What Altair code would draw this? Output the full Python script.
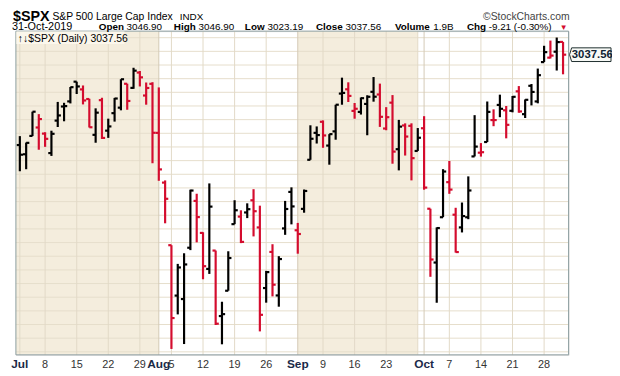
import altair as alt
import pandas as pd

# ---------------- data (S&P 500 daily OHLC, Jul-Oct 2019) ----------------
dates = (
    ["2019-07-%02d" % d for d in [1, 2, 3, 5, 8, 9, 10, 11, 12, 15, 16, 17, 18, 19, 22, 23, 24, 25, 26, 29, 30, 31]]
    + ["2019-08-%02d" % d for d in [1, 2, 5, 6, 7, 8, 9, 12, 13, 14, 15, 16, 19, 20, 21, 22, 23, 26, 27, 28, 29, 30]]
    + ["2019-09-%02d" % d for d in [3, 4, 5, 6, 9, 10, 11, 12, 13, 16, 17, 18, 19, 20, 23, 24, 25, 26, 27, 30]]
    + ["2019-10-%02d" % d for d in [1, 2, 3, 4, 7, 8, 9, 10, 11, 14, 15, 16, 17, 18, 21, 22, 23, 24, 25, 28, 29, 30, 31]]
)

opens = [
    2971.41, 2964.66, 2978.08, 2984.25, 2979.77, 2965.52, 2989.30, 2999.62, 3003.36, 3017.80, 3012.13,
    3005.10, 2978.87, 3004.26, 2981.93, 2994.74, 2998.77, 3016.26, 3013.25, 3024.47, 3007.66, 3016.22,
    2980.32, 2943.90, 2898.07, 2861.18, 2858.65, 2896.21, 2930.51, 2907.07, 2880.72, 2894.15, 2846.20,
    2864.74, 2913.48, 2919.01, 2922.04, 2930.94, 2911.07, 2866.70, 2893.14, 2861.28, 2910.37, 2937.09,
    2909.01, 2924.67, 2960.60, 2980.33, 2988.43, 2971.01, 2981.41, 3009.08, 3012.21, 2996.41, 2995.67,
    3001.50, 3010.36, 3008.42, 2983.50, 3002.43, 2968.35, 2985.73, 2985.47, 2967.07,
    2983.69, 2924.78, 2885.38, 2918.56, 2944.23, 2920.40, 2911.10, 2918.55, 2963.07, 2965.81, 2973.61,
    2989.68, 3000.77, 2996.84, 2996.48, 3010.73, 2994.01, 3014.78, 3003.32, 3032.12, 3035.39, 3039.74, 3046.90,
]
highs = [
    2977.93, 2973.21, 2995.84, 2994.03, 2980.76, 2981.90, 3002.98, 3002.33, 3013.92, 3017.80, 3015.02,
    3005.26, 2998.28, 3006.02, 2990.71, 3005.90, 3019.59, 3016.31, 3027.98, 3025.61, 3017.19, 3017.40,
    3013.59, 2945.50, 2898.07, 2884.40, 2892.17, 2938.72, 2935.75, 2907.58, 2943.31, 2894.15, 2856.67,
    2893.63, 2931.00, 2923.63, 2928.73, 2939.08, 2927.01, 2879.27, 2898.79, 2890.03, 2930.50, 2940.43,
    2914.39, 2938.84, 2985.86, 2985.03, 2989.43, 2979.39, 3000.93, 3020.74, 3017.33, 3002.19, 3006.21,
    3007.83, 3021.19, 3016.37, 2999.15, 3007.98, 2989.82, 2987.28, 2987.31, 2983.85,
    2992.53, 2924.78, 2911.13, 2953.74, 2959.75, 2925.47, 2929.32, 2948.46, 2993.28, 2972.84, 3003.28,
    2997.54, 3008.29, 3000.00, 3007.33, 3014.57, 3004.78, 3016.07, 3027.39, 3044.08, 3047.87, 3050.10, 3046.90,
]
lows = [
    2952.22, 2953.70, 2977.96, 2967.97, 2970.09, 2963.44, 2984.62, 2988.80, 3001.87, 3008.77, 3001.15,
    2984.25, 2973.09, 2975.86, 2976.65, 2988.56, 2996.82, 2997.24, 3012.59, 3014.30, 3000.94, 2958.08,
    2945.23, 2914.11, 2822.12, 2847.42, 2825.71, 2894.47, 2900.15, 2873.14, 2877.05, 2839.64, 2825.51,
    2864.74, 2913.48, 2899.60, 2917.91, 2904.51, 2834.97, 2856.00, 2860.59, 2853.05, 2905.67, 2913.32,
    2891.85, 2921.86, 2960.60, 2972.51, 2969.39, 2957.01, 2975.31, 3000.92, 3002.90, 2990.67, 2993.73,
    2978.57, 3003.16, 2984.68, 2982.23, 2957.73, 2952.86, 2963.71, 2945.53, 2967.07,
    2938.70, 2874.93, 2855.94, 2918.56, 2935.68, 2892.66, 2907.41, 2917.12, 2963.07, 2962.94, 2973.61,
    2985.20, 2991.79, 2976.31, 2995.35, 2995.04, 2991.21, 3000.42, 3001.94, 3032.12, 3034.81, 3025.96, 3023.19,
]
closes = [
    2964.33, 2973.01, 2995.82, 2990.41, 2975.95, 2979.63, 2993.07, 2999.91, 3013.77, 3014.30, 3004.04,
    2984.42, 2995.11, 2976.61, 2985.03, 3005.47, 3019.56, 3003.67, 3025.86, 3020.97, 3013.18, 2980.38,
    2953.56, 2932.05, 2844.74, 2881.77, 2883.98, 2938.09, 2918.65, 2882.70, 2926.32, 2840.60, 2847.60,
    2888.68, 2923.65, 2900.51, 2924.43, 2922.95, 2847.11, 2878.38, 2869.16, 2887.94, 2924.58, 2926.46,
    2906.27, 2937.78, 2976.00, 2978.71, 2978.43, 2979.39, 3000.93, 3009.57, 3007.39, 2997.96, 3005.70,
    3006.73, 3006.79, 2992.07, 2991.78, 2966.60, 2984.87, 2977.62, 2961.79, 2976.74,
    2940.25, 2887.61, 2910.63, 2952.01, 2938.79, 2893.06, 2919.40, 2938.13, 2970.27, 2966.15, 2995.68,
    2989.69, 2997.95, 2986.20, 3006.72, 2995.99, 3004.52, 3010.29, 3022.55, 3039.42, 3036.89, 3046.77, 3037.56,
]
prev_close = 2941.76  # close of 28-Jun-2019

# axis labels (dates they sit under)
label_dates = ["2019-07-01", "2019-07-08", "2019-07-15", "2019-07-22", "2019-07-29",
               "2019-08-01", "2019-08-05", "2019-08-12", "2019-08-19", "2019-08-26",
               "2019-09-03", "2019-09-09", "2019-09-16", "2019-09-23",
               "2019-10-01", "2019-10-07", "2019-10-14", "2019-10-21", "2019-10-28"]
label_texts = ["Jul", "8", "15", "22", "29", "Aug", "5", "12", "19", "26",
               "Sep", "9", "16", "23", "Oct", "7", "14", "21", "28"]
month_labels = ["Jul", "Aug", "Sep", "Oct"]

# vertical grid lines (Mondays) and month separators
week_grid = ["2019-07-01", "2019-07-08", "2019-07-15", "2019-07-22", "2019-07-29", "2019-08-05",
             "2019-08-12", "2019-08-19", "2019-08-26", "2019-09-09", "2019-09-16", "2019-09-23",
             "2019-09-30", "2019-10-07", "2019-10-14", "2019-10-21", "2019-10-28"]
month_grid = ["2019-08-01", "2019-09-03", "2019-10-01"]
# shaded months (start, end)
shade_start = ["2019-09-03"]
shade_end = ["2019-09-30"]

y_levels = list(range(2820, 3051, 10))

# ---------------- frames ----------------
df = pd.DataFrame({"date": dates, "open": opens, "high": highs, "low": lows, "close": closes})
df["idx"] = range(len(df))
prevs = [prev_close] + closes[:-1]
df["dir"] = ["up" if c >= p else "down" for c, p in zip(closes, prevs)]
pos = {d: i for i, d in enumerate(dates)}

lab = pd.DataFrame({"idx": [pos[d] for d in label_dates], "t": label_texts})
lab["month"] = lab["t"].isin(month_labels)
wgrid = pd.DataFrame({"idx": [pos[d] for d in week_grid]})
mgrid = pd.DataFrame({"idx": [pos[d] for d in month_grid]})
shade = pd.DataFrame({"s": [pos[d] for d in shade_start], "e": [pos[d] for d in shade_end]})
july = pd.DataFrame({"e": [pos["2019-08-01"]]})
levels = pd.DataFrame({"v": y_levels})
last = df.iloc[[-1]]

W, H = 560, 328
XDOM = [-0.625, 86.875]
YDOM = [2817.8, 3054.8]
FONT = "Liberation Sans"
RED = "#D40C2E"
BG_LIGHT = "#FDF6E4"
BG_DARK = "#F4EDDD"
FRAME = "#8D9EA1"

xs = alt.Scale(domain=XDOM, nice=False, zero=False)
ys = alt.Scale(domain=YDOM, nice=False, zero=False)
colr = alt.Color("dir:N", scale=alt.Scale(domain=["up", "down"], range=["#000000", RED]), legend=None)

base = alt.Chart(df)

bg_july = alt.Chart(july).mark_rect(color=BG_DARK).encode(
    x=alt.X("e:Q", scale=xs, axis=None), x2=alt.value(0), y=alt.value(0), y2=alt.value(H)
)
bg_sep = alt.Chart(shade).mark_rect(color=BG_DARK).encode(
    x=alt.X("s:Q", scale=xs, axis=None), x2="e:Q", y=alt.value(0), y2=alt.value(H)
)
hgrid = alt.Chart(levels).mark_rule(color="#E6DDCB", strokeWidth=1).encode(
    y=alt.Y("v:Q", scale=ys, axis=None), x=alt.value(0), x2=alt.value(W)
)
vgrid_w = alt.Chart(wgrid).mark_rule(strokeWidth=1, color="#E2D9C7").encode(
    x=alt.X("idx:Q", scale=xs, axis=None), y=alt.value(0), y2=alt.value(H)
)
vgrid_m = alt.Chart(mgrid).mark_rule(strokeWidth=1, color="#D3C9B6").encode(
    x=alt.X("idx:Q", scale=xs, axis=None), y=alt.value(0), y2=alt.value(H)
)

SW = 2.2
hl = base.mark_rule(strokeWidth=SW).encode(
    x=alt.X("idx:Q", scale=xs,
            axis=alt.Axis(values=list(range(len(dates))), labels=False, ticks=True, tickSize=2,
                          tickColor=FRAME, domain=False, grid=False, title=None)),
    y=alt.Y("low:Q", scale=ys,
            axis=alt.Axis(orient="right", values=y_levels, grid=False, domain=False, ticks=True,
                          tickSize=3, tickColor="#555555", labelFont=FONT, labelFontSize=10.5,
                          labelColor="#222222", labelPadding=1, title=None)),
    y2="high:Q",
    color=colr,
)
op = base.mark_rule(strokeWidth=SW, xOffset=-3.2, x2Offset=0).encode(
    x=alt.X("idx:Q", scale=xs), x2="idx:Q", y=alt.Y("open:Q", scale=ys), color=colr
)
cl = base.mark_rule(strokeWidth=SW, xOffset=0, x2Offset=3.2).encode(
    x=alt.X("idx:Q", scale=xs), x2="idx:Q", y=alt.Y("close:Q", scale=ys), color=colr
)

frame = alt.Chart(july).mark_rect(fill=None, stroke=FRAME, strokeWidth=1).encode(
    x=alt.value(0), x2=alt.value(W), y=alt.value(0), y2=alt.value(H)
)

day_lab = alt.Chart(lab[~lab["month"]]).mark_text(
    font=FONT, fontSize=11, color="#333333", baseline="alphabetic"
).encode(x=alt.X("idx:Q", scale=xs), y=alt.value(H + 13), text="t:N")
mon_lab = alt.Chart(lab[lab["month"]]).mark_text(
    font=FONT, fontSize=12, fontWeight="bold", color="#1B2A48", baseline="alphabetic"
).encode(x=alt.X("idx:Q", scale=xs), y=alt.value(H + 13), text="t:N")


def txt(t, px, py, size=10, weight="normal", color="#000000", align="left", font=FONT):
    return alt.Chart(pd.DataFrame({"t": [t]})).mark_text(
        font=font, fontSize=size, fontWeight=weight, color=color, align=align, baseline="alphabetic"
    ).encode(x=alt.value(px - 16), y=alt.value(py - 29), text="t:N")


L1 = 18
L2 = 28
header = [
    txt("$SPX", 13, 18.5, size=14.5, weight="bold"),
    txt("S&P 500 Large Cap Index", 53, L1, size=10.5),
    txt("INDX", 182, L1, size=10),
    txt("\u00a9StockCharts.com", 577, L1, size=10.5, color="#444444", align="right"),
    txt("31-Oct-2019", 12, L2, size=11),
    txt("Open", 100, L2, weight="bold"), txt("3046.90", 128, L2),
    txt("High", 176, L2, weight="bold"), txt("3046.90", 201, L2),
    txt("Low", 248, L2, weight="bold"), txt("3023.19", 271, L2),
    txt("Close", 320, L2, weight="bold"), txt("3037.56", 350, L2),
    txt("Volume", 400, L2, weight="bold"), txt("1.9B", 439, L2),
    txt("Chg", 473, L2, weight="bold"), txt("-9.21 (-0.30%)", 495, L2),
    txt("\u25bc", 567, L2, size=8, color=RED),
]

leg_box = alt.Chart(july).mark_rect(color="#FBF7EC").encode(
    x=alt.value(0.5), x2=alt.value(110), y=alt.value(0.5), y2=alt.value(13)
)
leg_txt = txt("\u2191\u2193$SPX (Daily) 3037.56", 18, 40, size=10.5)

price_box = alt.Chart(last).mark_point(
    shape="M -1 0 L -0.9 -0.33 L 1 -0.33 L 1 0.33 L -0.9 0.33 Z",
    size=1764, filled=True, fill="#F7F9F6", stroke="#1E2E2E", strokeWidth=1, opacity=1,
).encode(x=alt.value(W + 22), y=alt.Y("close:Q", scale=ys))
price_txt = alt.Chart(last).mark_text(
    font=FONT, fontSize=11.5, fontWeight="bold", color="#0E2233", align="center", baseline="middle", dx=2
).encode(x=alt.value(W + 22), y=alt.Y("close:Q", scale=ys), text=alt.Text("close:Q", format=".2f"))

chart = alt.layer(
    bg_july, bg_sep, hgrid, vgrid_w, vgrid_m, hl, op, cl, frame, day_lab, mon_lab,
    leg_box, leg_txt, *header, price_box, price_txt,
).properties(
    width=W, height=H,
    autosize=alt.AutoSizeParams(type="none"),
    padding={"left": 8, "top": 21, "right": 44, "bottom": 19},
).configure_view(
    fill=BG_LIGHT, stroke=None
).configure(background="#FFFFFF")

chart.save("out.html", embed_options={"renderer": "svg", "actions": False})
